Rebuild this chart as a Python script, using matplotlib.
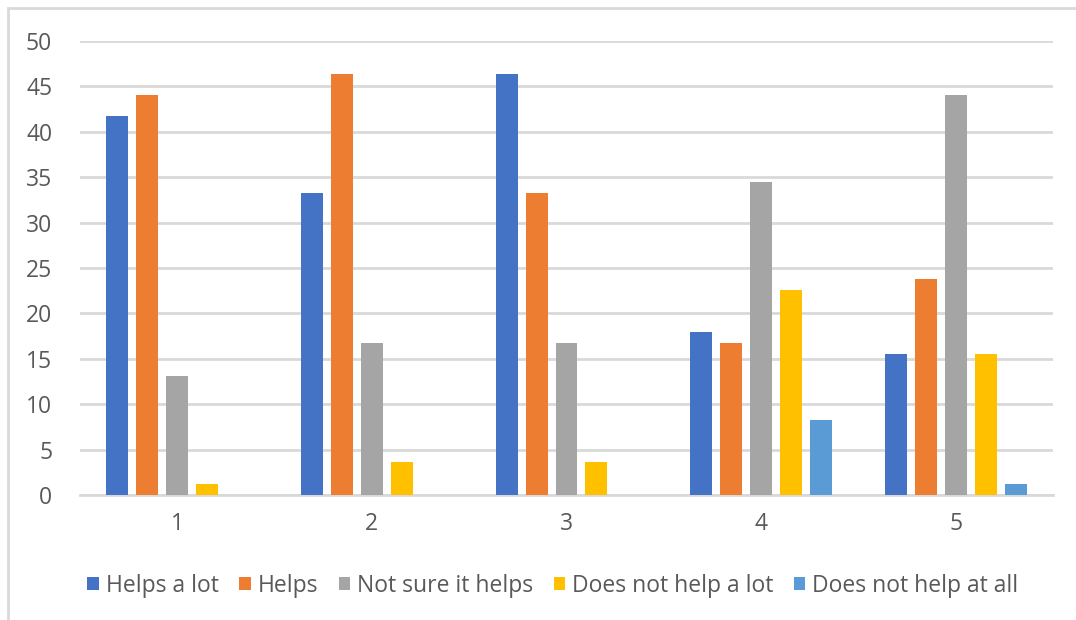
import numpy as np
import matplotlib.pyplot as plt
from matplotlib.patches import Rectangle

groups = ["1", "2", "3", "4", "5"]
series = ["Helps a lot", "Helps", "Not sure it helps", "Does not help a lot", "Does not help at all"]
helps_a_lot = [41.7, 33.3, 46.4, 17.9, 15.5]
helps = [44.0, 46.4, 33.3, 16.7, 23.8]
not_sure = [13.1, 16.7, 16.7, 34.5, 44.0]
not_help_lot = [1.2, 3.6, 3.6, 22.6, 15.5]
not_help_all = [0.0, 0.0, 0.0, 8.3, 1.2]
colors = ["#4472C4", "#ED7D31", "#A5A5A5", "#FFC000", "#5B9BD5"]

plt.rcParams['font.family'] = ['Open Sans', 'DejaVu Sans']
text_color = "#595959"
grid_color = "#D9D9D9"

fig = plt.figure(figsize=(10.76, 6.2), dpi=100)
# chart frame
fig.patches.append(Rectangle((8 / 1076, -0.1), 1.2, (620 - 8) / 620 + 0.1,
                             transform=fig.transFigure, fill=False,
                             edgecolor=grid_color, linewidth=2))

ax = fig.add_axes([80 / 1076, 1 - 495 / 620, (1053 - 80) / 1076, (495 - 41) / 620])

x = np.arange(len(groups))
pitch = 0.154
width = 0.113
data = [helps_a_lot, helps, not_sure, not_help_lot, not_help_all]
for i, (name, vals) in enumerate(zip(series, data)):
    ax.bar(x + (i - 2) * pitch, vals, width, color=colors[i], label=name, zorder=3)

ax.set_xlim(-0.5, len(groups) - 0.5)
ax.set_ylim(0, 50)
ax.set_yticks(range(0, 51, 5))
ax.set_xticks(x)
ax.set_xticklabels(groups)
ax.yaxis.grid(True, color=grid_color, linewidth=2, zorder=0)
for s in ["top", "right", "left"]:
    ax.spines[s].set_visible(False)
ax.spines["bottom"].set_color(grid_color)
ax.spines["bottom"].set_linewidth(2)
ax.tick_params(length=0, labelsize=16.5, colors=text_color)
ax.tick_params(axis="x", pad=12)
ax.tick_params(axis="y", pad=20)

leg = ax.legend(loc="center", bbox_to_anchor=(0.486, (495 - 586) / (495 - 41)),
                ncol=5, frameon=False, fontsize=16.5, handlelength=0.5,
                handleheight=0.5, handletextpad=0.3, columnspacing=0.9)
for t in leg.get_texts():
    t.set_color(text_color)

fig.savefig("out.png", dpi=100)
